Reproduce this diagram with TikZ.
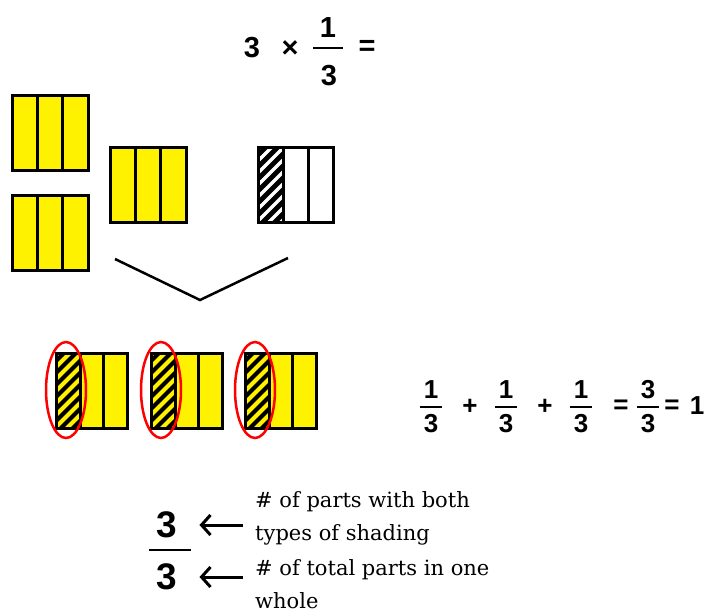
\documentclass[tikz,border=0pt]{standalone}
\usepackage{fontspec}
\newfontfamily\numfont{Liberation Sans}
\newfontfamily\notefont{DejaVu Serif}
\usepackage{tikz}
\usetikzlibrary{arrows.meta}

\begin{document}
\begin{tikzpicture}[x=1pt,y=-1pt,>={Straight Barb[length=9pt,width=20pt]},
	frame/.style={draw=black, line width=3pt},
	big/.style={font=\numfont\fontsize{29}{29}\selectfont\bfseries, inner sep=0pt},
	mid/.style={font=\numfont\fontsize{26}{26}\selectfont\bfseries, inner sep=0pt},
	huge/.style={font=\numfont\fontsize{37}{37}\selectfont\bfseries, inner sep=0pt},
	note/.style={font=\notefont\fontsize{21}{33}\selectfont, align=left, anchor=west, inner sep=0pt},
	bar/.style={line width=2.5pt}]
	\useasboundingbox (0,0) rectangle (707,614);
	%Titolo
	\node [big] (tA) at (252,48) {3};
	\node [big] (tX) at (290,49) {×};
	\node [big] (tN) at (328,28) {1};
	\node [big] (tD) at (329,76) {3};
	\node [big] (tE) at (367,48) {=};
	\draw [bar] (313,48) -- (343,48);
	%Rettangoli gialli
	\foreach \x/\y in {12/95, 12/195, 110/147} {
		\fill [yellow] (\x,\y) rectangle ++(76,75);
		\draw [frame] (\x,\y) rectangle ++(76,75);
		\draw [frame] (\x+25.3,\y) -- ++(0,75);
		\draw [frame] (\x+50.7,\y) -- ++(0,75);
	}
	%Rettangolo con un terzo tratteggiato
	\begin{scope}
		\clip (258,147) rectangle (283,222);
		\fill (258,147) rectangle (283,222);
		\foreach \k in {0,...,10}
			\draw [white, line width=3.5pt] (255,140+\k*12) -- ++(32,-32);
	\end{scope}
	\draw [frame] (258,147) rectangle ++(75,75);
	\draw [frame] (283,147) -- ++(0,75);
	\draw [frame] (308,147) -- ++(0,75);
	%Linee a V
	\draw [line width=2.5pt] (115,259) -- (200,300) -- (288,258);
	%Tre rettangoli con un terzo tratteggiato
	\foreach \x in {56,151,245} {
		\fill [yellow] (\x,353) rectangle ++(71,75);
		\begin{scope}
			\clip (\x,353) rectangle ++(24,75);
			\fill (\x,353) rectangle ++(24,75);
			\foreach \k in {0,...,10}
				\draw [yellow, line width=4pt] (\x-3,346+\k*12) -- ++(32,-32);
		\end{scope}
		\draw [frame] (\x,353) rectangle ++(71,75);
		\draw [frame] (\x+24,353) -- ++(0,75);
		\draw [frame] (\x+47,353) -- ++(0,75);
		\draw [red, line width=2.5pt] (\x+10,390) ellipse (20pt and 48pt);
	}
	%Somma
	\foreach \x/\n/\t in {431/a/1, 506/b/1, 581/c/1, 648/d/3} {
		\node [mid] (n\n) at (\x,390) {\t};
		\node [mid] (d\n) at (\x,424) {3};
		\draw [bar] (\x-11,407) -- (\x+11,407);
	}
	\node [mid] (p1) at (470,407) {+};
	\node [mid] (p2) at (545,407) {+};
	\node [mid] (e1) at (621,407) {=};
	\node [mid] (e2) at (672,407) {=};
	\node [mid] (one) at (697,406) {1};
	%Frazione con le spiegazioni
	\node [huge] (numA) at (167,525) {3};
	\node [huge] (numB) at (167,577) {3};
	\draw [bar] (149,550) -- (191,550);
	\node [note] (partsA) at (255,518) {\# of parts with both\\types of shading};
	\node [note] (partsB) at (255,584) {\# of total parts in one\\whole};
	\draw [->, line width=3pt, shorten <=12pt, shorten >=22pt] (numA.east -| partsA.west) -- (numA.east);
	\draw [->, line width=3pt, shorten <=12pt, shorten >=22pt] (numB.east -| partsB.west) -- (numB.east);
\end{tikzpicture}
\end{document}
